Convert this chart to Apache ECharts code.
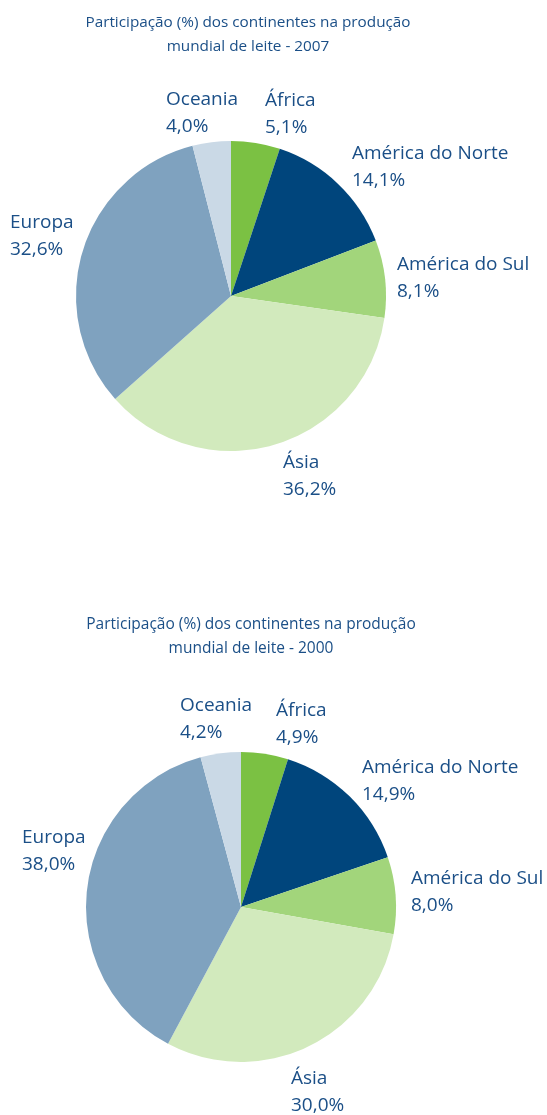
<!DOCTYPE html>
<html><head><meta charset="utf-8">
<script src="https://cdn.jsdelivr.net/npm/echarts@6/dist/echarts.min.js"></script>
<style>html,body{margin:0;padding:0;background:#fff}#c{width:547px;height:1115px}</style>
</head><body><div id="c"></div>
<script>
const continents = ['África', 'América do Norte', 'América do Sul', 'Ásia', 'Europa', 'Oceania'];
const share2007 = [5.1, 14.1, 8.1, 36.2, 32.6, 4.0];
const share2000 = [4.9, 14.9, 8.0, 30.0, 38.0, 4.2];
const titles = ['Participação (%) dos continentes na produção\nmundial de leite - 2007',
                'Participação (%) dos continentes na produção\nmundial de leite - 2000'];

const colors = ['#7bc143', '#00457c', '#a2d57b', '#d2eabd', '#7fa2bf', '#cad9e6'];
const textColor = '#1b4f87';
const FONT = '"Open Sans", sans-serif';
// label anchor positions (left/top) for each slice, per chart
const labelPos = [
  [[265, 87], [352, 140], [397, 251], [283, 449], [10, 209], [166, 86]],
  [[276, 697], [362, 754], [411, 865], [291, 1065], [22, 824], [180, 692]]
];

function mkSeries(values, center, idx) {
  return {
    type: 'pie',
    center: center,
    radius: 155,
    startAngle: 90,
    clockwise: true,
    avoidLabelOverlap: false,
    silent: true,
    itemStyle: { borderWidth: 0 },
    label: {
      show: true,
      position: 'outside',
      color: textColor,
      fontFamily: FONT,
      fontSize: 19,
      lineHeight: 27,
      align: 'left',
      formatter: p => p.name + '\n' + p.value.toFixed(1).replace('.', ',') + '%'
    },
    labelLine: { show: false },
    labelLayout: p => ({ x: labelPos[idx][p.dataIndex][0], y: labelPos[idx][p.dataIndex][1], align: 'left', verticalAlign: 'top', hideOverlap: false, moveOverlap: null }),
    data: continents.map((n, i) => ({ name: n, value: values[i], itemStyle: { color: colors[i] } }))
  };
}

const chart = echarts.init(document.getElementById('c'), null, { renderer: 'canvas' });
chart.setOption({
  backgroundColor: '#fff',
  animation: false,
  title: [
    { text: titles[0], left: 243, top: 6, textAlign: 'center', textStyle: { color: textColor, fontFamily: FONT, fontSize: 15.3, fontWeight: 'normal', lineHeight: 24, align: 'center' } },
    { text: titles[1], left: 246, top: 608, textAlign: 'center', textStyle: { color: textColor, fontFamily: FONT, fontSize: 15.5, fontWeight: 'normal', lineHeight: 23.5, align: 'center' } }
  ],
  series: [
    mkSeries(share2007, [231, 296], 0),
    mkSeries(share2000, [241, 907], 1)
  ]
});
</script></body></html>
